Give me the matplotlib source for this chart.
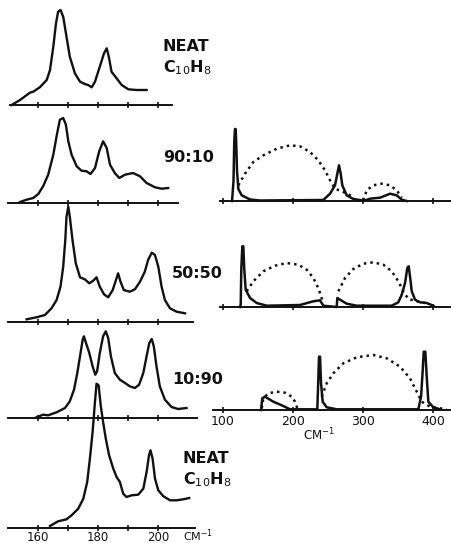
import matplotlib
matplotlib.use("Agg")
import matplotlib.pyplot as plt

plt.rcParams['font.family'] = ['DejaVu Sans']

# ---------------- data (left column: far-IR bands, cm^-1 vs. intensity) ----------------
neat_top_x = [151.2, 154.0, 157.3, 158.4, 160.6, 162.9, 164.0, 165.1, 166.0, 166.7, 167.5, 168.4,
              169.5, 170.6, 172.3, 174.0, 175.6, 176.7, 177.9, 179.0, 180.6, 182.0, 182.9, 183.6,
              184.5, 186.2, 187.9, 190.1, 192.9, 196.2]
neat_top_y = [0, 5, 12.3, 13.3, 17.7, 25, 35, 58.3, 81.7, 93.3, 95, 88.3, 68.3, 48.3, 31.7, 23.3,
              21, 20, 17.7, 23.3, 38.3, 51.7, 56.7, 48.3, 33.3, 26.7, 20, 15.7, 15, 15]

mix9010_x = [154.0, 156.2, 158.4, 160.1, 161.7, 163.4, 165.1, 166.4, 167.3, 168.4, 169.3, 170.1,
             171.2, 172.9, 174.5, 176.2, 177.5, 179.0, 180.4, 181.7, 182.9, 184.0, 185.6, 187.1,
             189.0, 191.7, 194.0, 196.2, 199.0, 201.2, 203.4]
mix9010_y = [1, 3.3, 5, 9, 16.7, 28.3, 48.3, 70, 83.3, 85, 78.3, 61.7, 48.3, 36.7, 32.3, 31.7, 29,
             35, 51.7, 61.7, 55, 38.3, 30, 25, 28.3, 30, 26.7, 20, 15.7, 14.3, 15]

mix5050_x = [156.2, 159.5, 162.3, 164.5, 166.2, 167.5, 168.4, 169.1, 169.5, 170.1, 170.6, 171.5,
             172.6, 174.0, 175.6, 177.1, 178.4, 179.5, 180.6, 182.0, 183.4, 184.9, 186.0, 186.7,
             187.5, 188.6, 190.6, 192.3, 194.0, 195.6, 196.7, 197.9, 199.0, 200.1, 201.2, 202.3,
             204.0, 206.2, 209.0]
mix5050_y = [2.7, 4.7, 7, 13.7, 22, 35.3, 55.3, 82, 105.3, 115.3, 105.3, 82, 58.7, 44.7, 42.7,
             38.7, 41.3, 44.7, 35.3, 27.7, 24.7, 32, 42, 48.7, 40.3, 32, 30.3, 32.7, 40.3, 50.3,
             62, 69.3, 67, 55.3, 35.3, 22, 13.7, 10.3, 8.7]

mix1090_x = [159.5, 161.7, 163.4, 166.2, 169.0, 170.6, 172.0, 173.1, 174.0, 174.9, 175.3, 176.0,
             177.1, 178.2, 179.1, 179.7, 180.6, 181.7, 182.6, 183.4, 184.3, 185.6, 187.3, 189.0,
             190.6, 192.3, 193.7, 195.1, 196.2, 197.1, 197.9, 198.6, 199.5, 200.6, 202.3, 204.5,
             206.7, 209.5]
mix1090_y = [0.7, 3.3, 2.7, 5.7, 10, 16.7, 28.3, 45, 61.7, 78.3, 81.7, 75, 65, 51.7, 43.3, 46.7,
             65, 81.7, 86.7, 80, 61.7, 45, 38.3, 35, 31.7, 30, 33.3, 45, 61.7, 75, 79, 71.7, 51.7,
             31.7, 18.3, 11, 9, 10]

neat_bot_x = [164.0, 166.7, 169.5, 171.2, 173.4, 175.1, 176.4, 177.3, 178.2, 178.9, 179.5, 180.2,
              180.9, 181.7, 182.6, 183.7, 185.1, 186.2, 187.3, 188.4, 189.5, 191.2, 193.4, 195.1,
              196.2, 197.0, 197.5, 198.2, 199.0, 200.1, 201.7, 204.0, 206.2, 208.4, 210.4]
neat_bot_y = [2, 6.7, 8.7, 12.7, 19.3, 29.3, 46, 69.3, 96, 122.7, 144.3, 142.7, 122.7, 106, 89.3,
              72.7, 59.3, 51, 46, 34.3, 31, 32.7, 33.3, 39.3, 56, 72.7, 77.7, 69.3, 49.3, 37.7, 32,
              27.7, 27.7, 28.7, 30]

left_labels = ["NEAT\nC$_{10}$H$_8$", "90:10", "50:50", "10:90", "NEAT\nC$_{10}$H$_8$"]
left_ticks = [160, 170, 180, 190, 200]
left_ticklabels = ["160", "", "180", "", "200"]

# ---------------- data (right column: wide range spectra) ----------------
r1_x = [112.9, 115.0, 116.1, 117.1, 118.1, 119.0, 120.0, 121.9, 126.7, 138.6, 152.9, 243.3, 252.9,
        260.0, 263.3, 265.7, 268.1, 270.4, 276.7, 286.1, 298.1, 300.4, 310.0, 324.3, 338.6, 348.1,
        355.3, 362.4]
r1_y = [0, 20, 60, 72, 72, 55, 30, 12, 5.7, 1.5, 0.5, 1, 7.3, 15.7, 27.3, 35.7, 27.3, 15.7, 5.7,
        2, 0.7, 0, 2.3, 3.3, 7.3, 5.7, 1.3, 0]
r1_d1_x = [121.9, 131.4, 143.3, 157.6, 176.7, 195.7, 210.0, 224.3, 236.1, 245.7, 252.9, 260.0,
           271.9, 281.4, 288.6]
r1_d1_y = [15.7, 27.3, 39, 45.7, 52.3, 55.7, 54.7, 49, 40.7, 30.7, 20.7, 12.3, 9, 5.7, 1.3]
r1_d2_x = [300.4, 305.3, 314.7, 326.7, 338.6, 348.1, 355.3]
r1_d2_y = [0.7, 10.7, 15.7, 17.3, 15.7, 10.7, 3.3]

r2_x = [124.0, 125.3, 126.1, 127.6, 129.0, 130.4, 132.4, 138.6, 148.1, 162.4, 210.0, 229.0, 238.6,
        243.3, 262.4, 263.3, 267.1, 276.7, 291.0, 341.0, 350.4, 355.3, 360.0, 363.3, 365.3, 367.1,
        369.6, 374.3, 381.4, 391.0, 400.4]
r2_y = [0, 2.3, 37.3, 60.7, 60.7, 37.3, 17.3, 9, 4, 1.3, 2, 5.7, 6.7, 1.3, 0, 9, 7.3, 3.3, 1.3,
        1.3, 4.7, 12.3, 24, 39, 40.7, 30.7, 15.7, 7.3, 4.7, 4, 1.3]
r2_d1_x = [133.9, 143.3, 157.6, 174.3, 191.0, 207.6, 219.6, 229.0, 236.1, 242.4]
r2_d1_y = [15.7, 25.7, 35.7, 41.3, 44, 42.3, 37.3, 29, 19, 5.7]
r2_d2_x = [264.7, 274.3, 286.1, 300.4, 314.7, 329.0, 341.0, 350.4, 357.6, 364.7, 376.7, 388.6]
r2_d2_y = [15.7, 29, 38, 43.3, 44.7, 42.3, 35.7, 25.7, 15.7, 8, 5.7, 4]

r3_x = [154.3, 156.1, 160.0, 171.9, 186.1, 195.7, 234.7, 236.1, 237.1, 238.6, 240.0, 242.4, 248.1,
        262.4, 379.0, 382.9, 385.3, 386.7, 389.0, 391.0, 393.3, 400.4, 410.0]
r3_y = [0, 11.7, 13.3, 8.3, 4, 0.7, 0.7, 30, 53.3, 53.3, 26.7, 8.3, 2.7, 0.7, 0.7, 13.3, 40, 58.3,
        58.3, 33.3, 8.3, 2.7, 0.7]
r3_d1_x = [155.3, 157.6, 164.7, 176.7, 188.6, 198.1, 202.9, 206.1]
r3_d1_y = [1.7, 11.7, 16.7, 18.3, 17.3, 13.3, 8.3, 1.7]
r3_d2_x = [241.0, 248.1, 257.6, 271.9, 291.0, 314.7, 333.9, 352.9, 367.1, 376.7, 383.9, 395.7,
           410.0, 419.6]
r3_d2_y = [13.3, 26.7, 36.7, 46.7, 52.7, 55, 51.7, 43.3, 31.7, 18.3, 8.3, 3.3, 1.7, 0.7]

right_ticks = [100, 200, 300, 400]

# ---------------- figure ----------------
W, H = 452, 543
fig = plt.figure(figsize=(W / 100, H / 100), dpi=100)
fig.patch.set_facecolor("white")

INK = "#111111"


def make_axes(x0, x1, base, h):
    ax = fig.add_axes([x0 / W, (H - base) / H, (x1 - x0) / W, h / H])
    ax.patch.set_alpha(0)
    for s in ("top", "right", "left"):
        ax.spines[s].set_visible(False)
    ax.spines["bottom"].set_linewidth(1.4)
    ax.spines["bottom"].set_color(INK)
    ax.set_yticks([])
    ax.set_ylim(0, h)
    return ax


# left column
left_series = [(neat_top_x, neat_top_y), (mix9010_x, mix9010_y), (mix5050_x, mix5050_y),
               (mix1090_x, mix1090_y), (neat_bot_x, neat_bot_y)]
left_base = [105, 203, 322, 418, 528]
left_h = [100, 95, 122, 92, 150]
left_bounds = [(150.6, 204.6), (150.0, 206.7), (150.0, 211.7), (150.0, 213.0), (150.0, 212.3)]
label_pos = [(163, 58), (163, 157), (172, 273), (172, 380), (183, 470)]

for i, ((xs, ys), b, h, bd) in enumerate(zip(left_series, left_base, left_h, left_bounds)):
    ax = make_axes(8, 197, b, h)
    ax.set_xlim(150, 213)
    ax.spines["bottom"].set_bounds(*bd)
    ax.plot(xs, ys, color=INK, lw=1.7, solid_joinstyle="round", clip_on=False)
    ax.set_xticks(left_ticks)
    last = i == len(left_series) - 1
    ax.tick_params(axis="x", direction="inout", length=4, width=1.2, color=INK,
                   labelbottom=last, labelsize=8.5, pad=0.3, labelcolor=INK)
    if last:
        ax.set_xticklabels(left_ticklabels)

for txt, (px, py) in zip(left_labels, label_pos):
    fig.text(px / W, 1 - py / H, txt, fontsize=11.5, color=INK, ha="left", va="center",
             linespacing=1.25, fontweight="bold")

fig.text(183 / W, 1 - 536 / H, "CM$^{-1}$", fontsize=8, color=INK, ha="left", va="center")

# right column
right_series = [
    ((r1_x, r1_y), [(r1_d1_x, r1_d1_y), (r1_d2_x, r1_d2_y)]),
    ((r2_x, r2_y), [(r2_d1_x, r2_d1_y), (r2_d2_x, r2_d2_y)]),
    ((r3_x, r3_y), [(r3_d1_x, r3_d1_y), (r3_d2_x, r3_d2_y)]),
]
right_base = [201, 307, 410]
right_h = [80, 70, 65]
right_bounds = [(95.7, 427.1), (95.7, 424.3), (85.7, 427.1)]

for i, (((sx, sy), dots), b, h, bd) in enumerate(zip(right_series, right_base, right_h, right_bounds)):
    ax = make_axes(213, 452, b, h)
    ax.set_xlim(85.7, 427.1)
    ax.spines["bottom"].set_bounds(*bd)
    ax.plot(sx, sy, color=INK, lw=1.8, solid_joinstyle="round", clip_on=False)
    for dx, dy in dots:
        ax.plot(dx, dy, color=INK, lw=1.8, linestyle=(0, (1.0, 1.6)), clip_on=False)
    ax.set_xticks(right_ticks)
    last = i == len(right_series) - 1
    ax.tick_params(axis="x", direction="inout", length=4, width=1.2, color=INK,
                   labelbottom=last, labelsize=9, pad=1.5, labelcolor=INK)

fig.text(319 / W, 1 - 435 / H, "CM$^{-1}$", fontsize=8.5, color=INK, ha="center", va="center")

fig.savefig("out.png", dpi=100)
